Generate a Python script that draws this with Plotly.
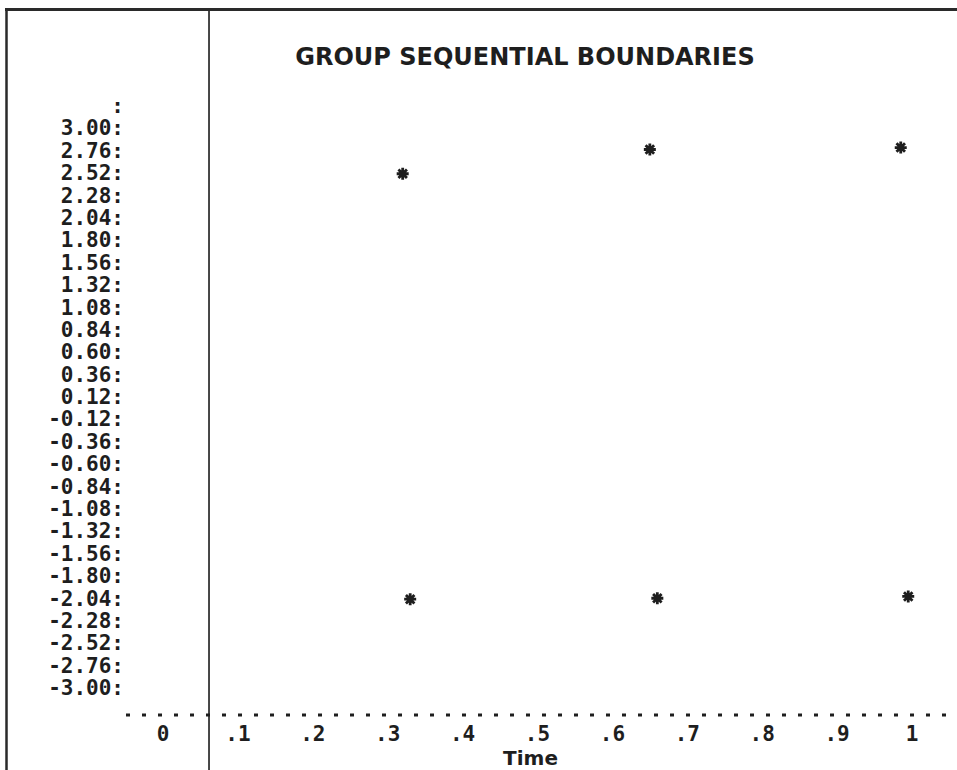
import plotly.graph_objects as go

# ---------------- data ----------------
chart_title = "GROUP SEQUENTIAL BOUNDARIES"
x_axis_title = "Time"

upper_time = [0.32, 0.65, 0.985]
upper_z = [2.51, 2.77, 2.79]

lower_time = [0.33, 0.66, 0.995]
lower_z = [-2.05, -2.04, -2.02]

x_tick_values = [0, 0.1, 0.2, 0.3, 0.4, 0.5, 0.6, 0.7, 0.8, 0.9, 1.0]
x_tick_labels = ["0", ".1", ".2", ".3", ".4", ".5", ".6", ".7", ".8", ".9", "1"]

y_tick_labels = ["3.00:", "2.76:", "2.52:", "2.28:", "2.04:", "1.80:", "1.56:",
                 "1.32:", "1.08:", "0.84:", "0.60:", "0.36:", "0.12:", "-0.12:",
                 "-0.36:", "-0.60:", "-0.84:", "-1.08:", "-1.32:", "-1.56:",
                 "-1.80:", "-2.04:", "-2.28:", "-2.52:", "-2.76:", "-3.00:"]
y_top_marker_label = ":"
y_top_marker_value = 3.24
y_axis_cross_time = 0.0614   # where the vertical axis line crosses the time scale

# ---------------- layout geometry ----------------
W, H = 957, 770
ML, MR, MT, MB = 130, 26, 0, 55
X_RANGE = [-0.0441, 1.0254]
Y_RANGE = [-3.291, 4.372]
plot_w = W - ML - MR
plot_h = H - MT - MB


def px_to_paper_x(px):
    return (px - ML) / plot_w


def py_to_paper_y(py):
    return 1 - (py - MT) / plot_h


ink = "#1e1e1e"
mono = "DejaVu Sans Mono"

y_vals = [y_top_marker_value] + [float(s.rstrip(":")) for s in y_tick_labels]
y_text = [y_top_marker_label] + y_tick_labels

fig = go.Figure()
marker_style = dict(symbol="asterisk-open", size=10, color=ink,
                    line=dict(color=ink, width=2.8))
fig.add_trace(go.Scatter(x=upper_time, y=upper_z, mode="markers",
                         marker=marker_style, name="Upper", showlegend=False))
fig.add_trace(go.Scatter(x=lower_time, y=lower_z, mode="markers",
                         marker=marker_style, name="Lower", showlegend=False))

axis_cross_paper = (y_axis_cross_time - X_RANGE[0]) / (X_RANGE[1] - X_RANGE[0])

shapes = [
    # outer frame: top and left edges
    dict(type="line", xref="paper", yref="paper",
         x0=px_to_paper_x(5), x1=px_to_paper_x(W + 2),
         y0=py_to_paper_y(9.5), y1=py_to_paper_y(9.5),
         line=dict(color="#2a2a2a", width=3)),
    dict(type="line", xref="paper", yref="paper",
         x0=px_to_paper_x(6.5), x1=px_to_paper_x(6.5),
         y0=py_to_paper_y(8), y1=py_to_paper_y(H + 2),
         line=dict(color="#2a2a2a", width=2.5)),
    # vertical axis line
    dict(type="line", xref="paper", yref="paper",
         x0=axis_cross_paper, x1=axis_cross_paper,
         y0=py_to_paper_y(11), y1=py_to_paper_y(H + 2),
         line=dict(color="#333333", width=1.8)),
    # dotted time axis
    dict(type="line", xref="paper", yref="paper",
         x0=px_to_paper_x(126), x1=px_to_paper_x(W + 2),
         y0=0, y1=0,
         line=dict(color=ink, width=3, dash="4px,12px")),
]

fig.update_layout(
    width=W, height=H,
    margin=dict(l=ML, r=MR, t=MT, b=MB, pad=0),
    paper_bgcolor="white", plot_bgcolor="white",
    showlegend=False,
    shapes=shapes,
    title=dict(text=chart_title, x=525 / W, xref="container", xanchor="center",
               y=1 - 57 / H, yref="container", yanchor="middle",
               font=dict(family="DejaVu Sans", size=24, color=ink, weight="bold")),
    xaxis=dict(range=X_RANGE, showgrid=False, zeroline=False, showline=False,
               ticks="", tickmode="array", tickvals=x_tick_values,
               ticktext=x_tick_labels, ticklabelstandoff=4,
               tickfont=dict(family=mono, size=21, color=ink, weight="bold"),
               title=dict(text=x_axis_title, standoff=0,
                          font=dict(family="DejaVu Sans", size=20, color=ink,
                                    weight="bold")),
               automargin=False, fixedrange=True),
    yaxis=dict(range=Y_RANGE, showgrid=False, zeroline=False, showline=False,
               ticks="", tickmode="array", tickvals=y_vals, ticktext=y_text,
               ticklabelstandoff=5,
               tickfont=dict(family=mono, size=21, color=ink, weight="bold"),
               automargin=False, fixedrange=True),
)

fig.write_html(
    "out.html",
    config={"displayModeBar": False},
    post_script="document.body.style.margin='0';document.body.style.padding='0';"
                "document.body.style.overflow='hidden';",
)
